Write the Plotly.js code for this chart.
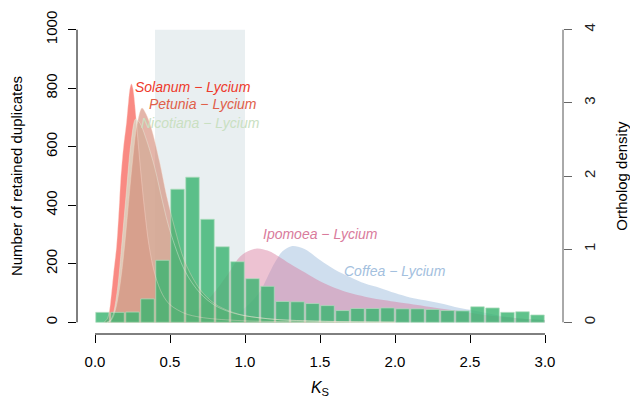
<!DOCTYPE html>
<html>
<head>
<meta charset="utf-8">
<script src="https://cdn.plot.ly/plotly-3.0.1.min.js"></script>
<style>html,body{margin:0;padding:0;background:#fff;}#chart{width:630px;height:398px;}</style>
</head>
<body>
<div id="chart"></div>
<script>
// ---- Data ----
const binCenters = [0.05,0.15,0.25,0.35,0.45,0.55,0.65,0.75,0.85,0.95,1.05,1.15,1.25,1.35,1.45,1.55,1.65,1.75,1.85,1.95,2.05,2.15,2.25,2.35,2.45,2.55,2.65,2.75,2.85,2.95];
const duplicates = [34,34,35,80,212,455,496,352,258,207,149,123,71,70,64,57,40,47,47,49,46,46,44,40,39,53,49,34,36,25];

const solanumKs = [0.06,0.08,0.093,0.11,0.125,0.143,0.16,0.171,0.19,0.209,0.222,0.233,0.243,0.253,0.262,0.271,0.29,0.31,0.33,0.36,0.40,0.45,0.50,0.60,0.70,0.80,1.00,1.30,1.60,2.00];
const solanumD  = [0,0.04,0.12,0.4,0.7,1.03,1.55,1.95,2.4,2.72,3.0,3.2,3.26,3.2,3.06,2.86,2.4,1.95,1.55,1.05,0.65,0.38,0.24,0.12,0.07,0.045,0.02,0.008,0.003,0];

const nicotianaKs = [0.08,0.10,0.12,0.15,0.18,0.21,0.24,0.271,0.30,0.35,0.40,0.45,0.50,0.60,0.70,0.80,0.90,1.00,1.20,1.50,2.00];
const nicotianaD  = [0,0.02,0.1,0.45,1.1,1.8,2.45,2.78,2.72,2.45,2.1,1.65,1.25,0.7,0.4,0.23,0.14,0.09,0.04,0.015,0];

const petuniaKs = [0.08,0.10,0.12,0.14,0.16,0.18,0.20,0.22,0.25,0.28,0.313,0.34,0.376,0.43,0.476,0.531,0.598,0.70,0.80,0.90,1.00,1.20,1.50,2.00];
const petuniaD  = [0,0.01,0.07,0.2,0.42,0.72,1.1,1.55,2.2,2.7,2.93,2.85,2.65,2.2,1.74,1.29,0.83,0.45,0.25,0.15,0.09,0.04,0.015,0.004];

const ipomoeaKs = [0.5,0.6,0.7,0.8,0.9,0.95,1.0,1.08,1.15,1.2,1.3,1.4,1.5,1.6,1.7,1.8,1.9,2.0,2.2,2.4,2.6,2.8,3.0];
const ipomoeaD  = [0.01,0.07,0.2,0.42,0.7,0.86,0.95,1.01,0.98,0.93,0.8,0.68,0.56,0.47,0.4,0.35,0.31,0.28,0.22,0.16,0.1,0.06,0.03];

const coffeaKs = [0.7,0.8,0.9,1.0,1.1,1.15,1.2,1.25,1.31,1.4,1.5,1.6,1.7,1.8,1.9,2.0,2.1,2.2,2.3,2.4,2.5,2.6,2.7,2.8,2.9,3.0];
const coffeaD  = [0.005,0.02,0.07,0.2,0.42,0.62,0.82,0.97,1.04,1.0,0.85,0.72,0.62,0.53,0.47,0.4,0.34,0.3,0.26,0.21,0.17,0.13,0.09,0.06,0.04,0.03];

const pairLabels = ["Solanum − Lycium","Petunia − Lycium","Nicotiana − Lycium","Ipomoea − Lycium","Coffea − Lycium"];
const labelKs    = [0.655,0.721,0.70,1.50,2.003];
const labelCount = [804,745,680,303,177];
const labelColors = ["#ee3a2c","#e0604a","#c9e0c2","#d97b9c","#a3c0de"];

const xTicks = [0,0.5,1.0,1.5,2.0,2.5,3.0];
const xTickText = ["0.0","0.5","1.0","1.5","2.0","2.5","3.0"];
const countTicks = [0,200,400,600,800,1000];
const densityTicks = [0,1,2,3,4];
const shadeRange = [0.4,1.0];

// ---- Traces ----
function area(xs, ys, fill) {
  return {x: xs, y: ys, type: 'scatter', mode: 'lines', yaxis: 'y',
    fill: 'tozeroy', fillcolor: fill, line: {width: 0, shape: 'spline', smoothing: 0.9},
    hoverinfo: 'skip', showlegend: false};
}
function outline(xs, ys, col) {
  return {x: xs, y: ys, type: 'scatter', mode: 'lines', yaxis: 'y3',
    line: {width: 0.8, color: col, shape: 'spline', smoothing: 0.9},
    hoverinfo: 'skip', showlegend: false};
}
const traces = [
  area(coffeaKs, coffeaD, 'rgba(160,190,222,0.5)'),
  area(ipomoeaKs, ipomoeaD, 'rgba(214,120,155,0.45)'),
  area(solanumKs, solanumD, 'rgba(248,118,109,0.85)'),
  area(nicotianaKs, nicotianaD, 'rgba(212,230,208,0.7)'),
  area(petuniaKs, petuniaD, 'rgba(210,132,111,0.6)'),
  {x: binCenters, y: duplicates, type: 'bar', yaxis: 'y2', width: 0.09,
    marker: {color: 'rgba(60,180,113,0.82)', line: {color: 'rgba(175,222,190,0.9)', width: 0.8}},
    hoverinfo: 'skip', showlegend: false},
  outline(solanumKs, solanumD, 'rgba(255,225,215,0.45)'),
  outline(nicotianaKs, nicotianaD, 'rgba(235,245,230,0.5)'),
  outline(petuniaKs, petuniaD, 'rgba(250,220,205,0.45)')
];

const fontFam = '"Liberation Sans", Arial, Helvetica, sans-serif';
const annotations = pairLabels.map((t, i) => ({
  x: labelKs[i], y: labelCount[i], xref: 'x', yref: 'y2', text: t, showarrow: false,
  xanchor: 'center', yanchor: 'middle',
  font: {family: fontFam, size: 14, color: labelColors[i], style: 'italic'}
}));

const layout = {
  width: 630, height: 398,
  margin: {l: 77, r: 67, t: 18, b: 64, pad: 0},
  paper_bgcolor: '#fff', plot_bgcolor: 'rgba(0,0,0,0)',
  font: {family: fontFam, size: 15, color: '#000'},
  showlegend: false,
  bargap: 0,
  xaxis: {range: [-0.12, 3.12], tickvals: xTicks, ticktext: xTickText,
    ticks: 'outside', ticklen: 8, tickwidth: 1, tickcolor: '#000',
    showline: false, showgrid: false, zeroline: false,
    ticklabelstandoff: 6,
    tickfont: {size: 15},
    title: {text: '<i>K</i><sub>S</sub>', font: {size: 16}, standoff: 16}},
  yaxis: {range: [-0.16, 4.16], side: 'right', tickvals: densityTicks,
    ticks: 'outside', ticklen: 8, tickwidth: 1, tickcolor: '#666',
    tickangle: -90, showline: false, showgrid: false, zeroline: false,
    ticklabelstandoff: 5,
    tickfont: {size: 15, color: '#222'},
    title: {text: 'Ortholog density', font: {size: 15}, standoff: 19}},
  yaxis2: {range: [-40, 1040], overlaying: 'y', side: 'left', tickvals: countTicks,
    ticks: 'outside', ticklen: 8, tickwidth: 1, tickcolor: '#000',
    tickangle: -90, showline: false, showgrid: false, zeroline: false,
    ticklabelstandoff: 5,
    tickfont: {size: 15},
    title: {text: 'Number of retained duplicates', font: {size: 15}, standoff: 16}},
  yaxis3: {range: [-0.16, 4.16], overlaying: 'y', visible: false},
  shapes: [
    {type: 'rect', layer: 'below', xref: 'x', yref: 'y2', x0: shadeRange[0], x1: shadeRange[1], y0: 0, y1: 1000,
      fillcolor: '#e9eff1', line: {width: 0}},
    {type: 'line', xref: 'x', yref: 'paper', x0: xTicks[0], x1: xTicks[xTicks.length-1], y0: 0, y1: 0,
      line: {color: '#000', width: 1}},
    {type: 'line', xref: 'paper', yref: 'y2', x0: 0, x1: 0, y0: countTicks[0], y1: countTicks[countTicks.length-1],
      line: {color: '#000', width: 1}},
    {type: 'line', xref: 'paper', yref: 'y', x0: 1, x1: 1, y0: densityTicks[0], y1: densityTicks[densityTicks.length-1],
      line: {color: '#555', width: 1}}
  ],
  annotations: annotations
};

Plotly.newPlot('chart', traces, layout, {staticPlot: true, displayModeBar: false});
</script>
</body>
</html>
